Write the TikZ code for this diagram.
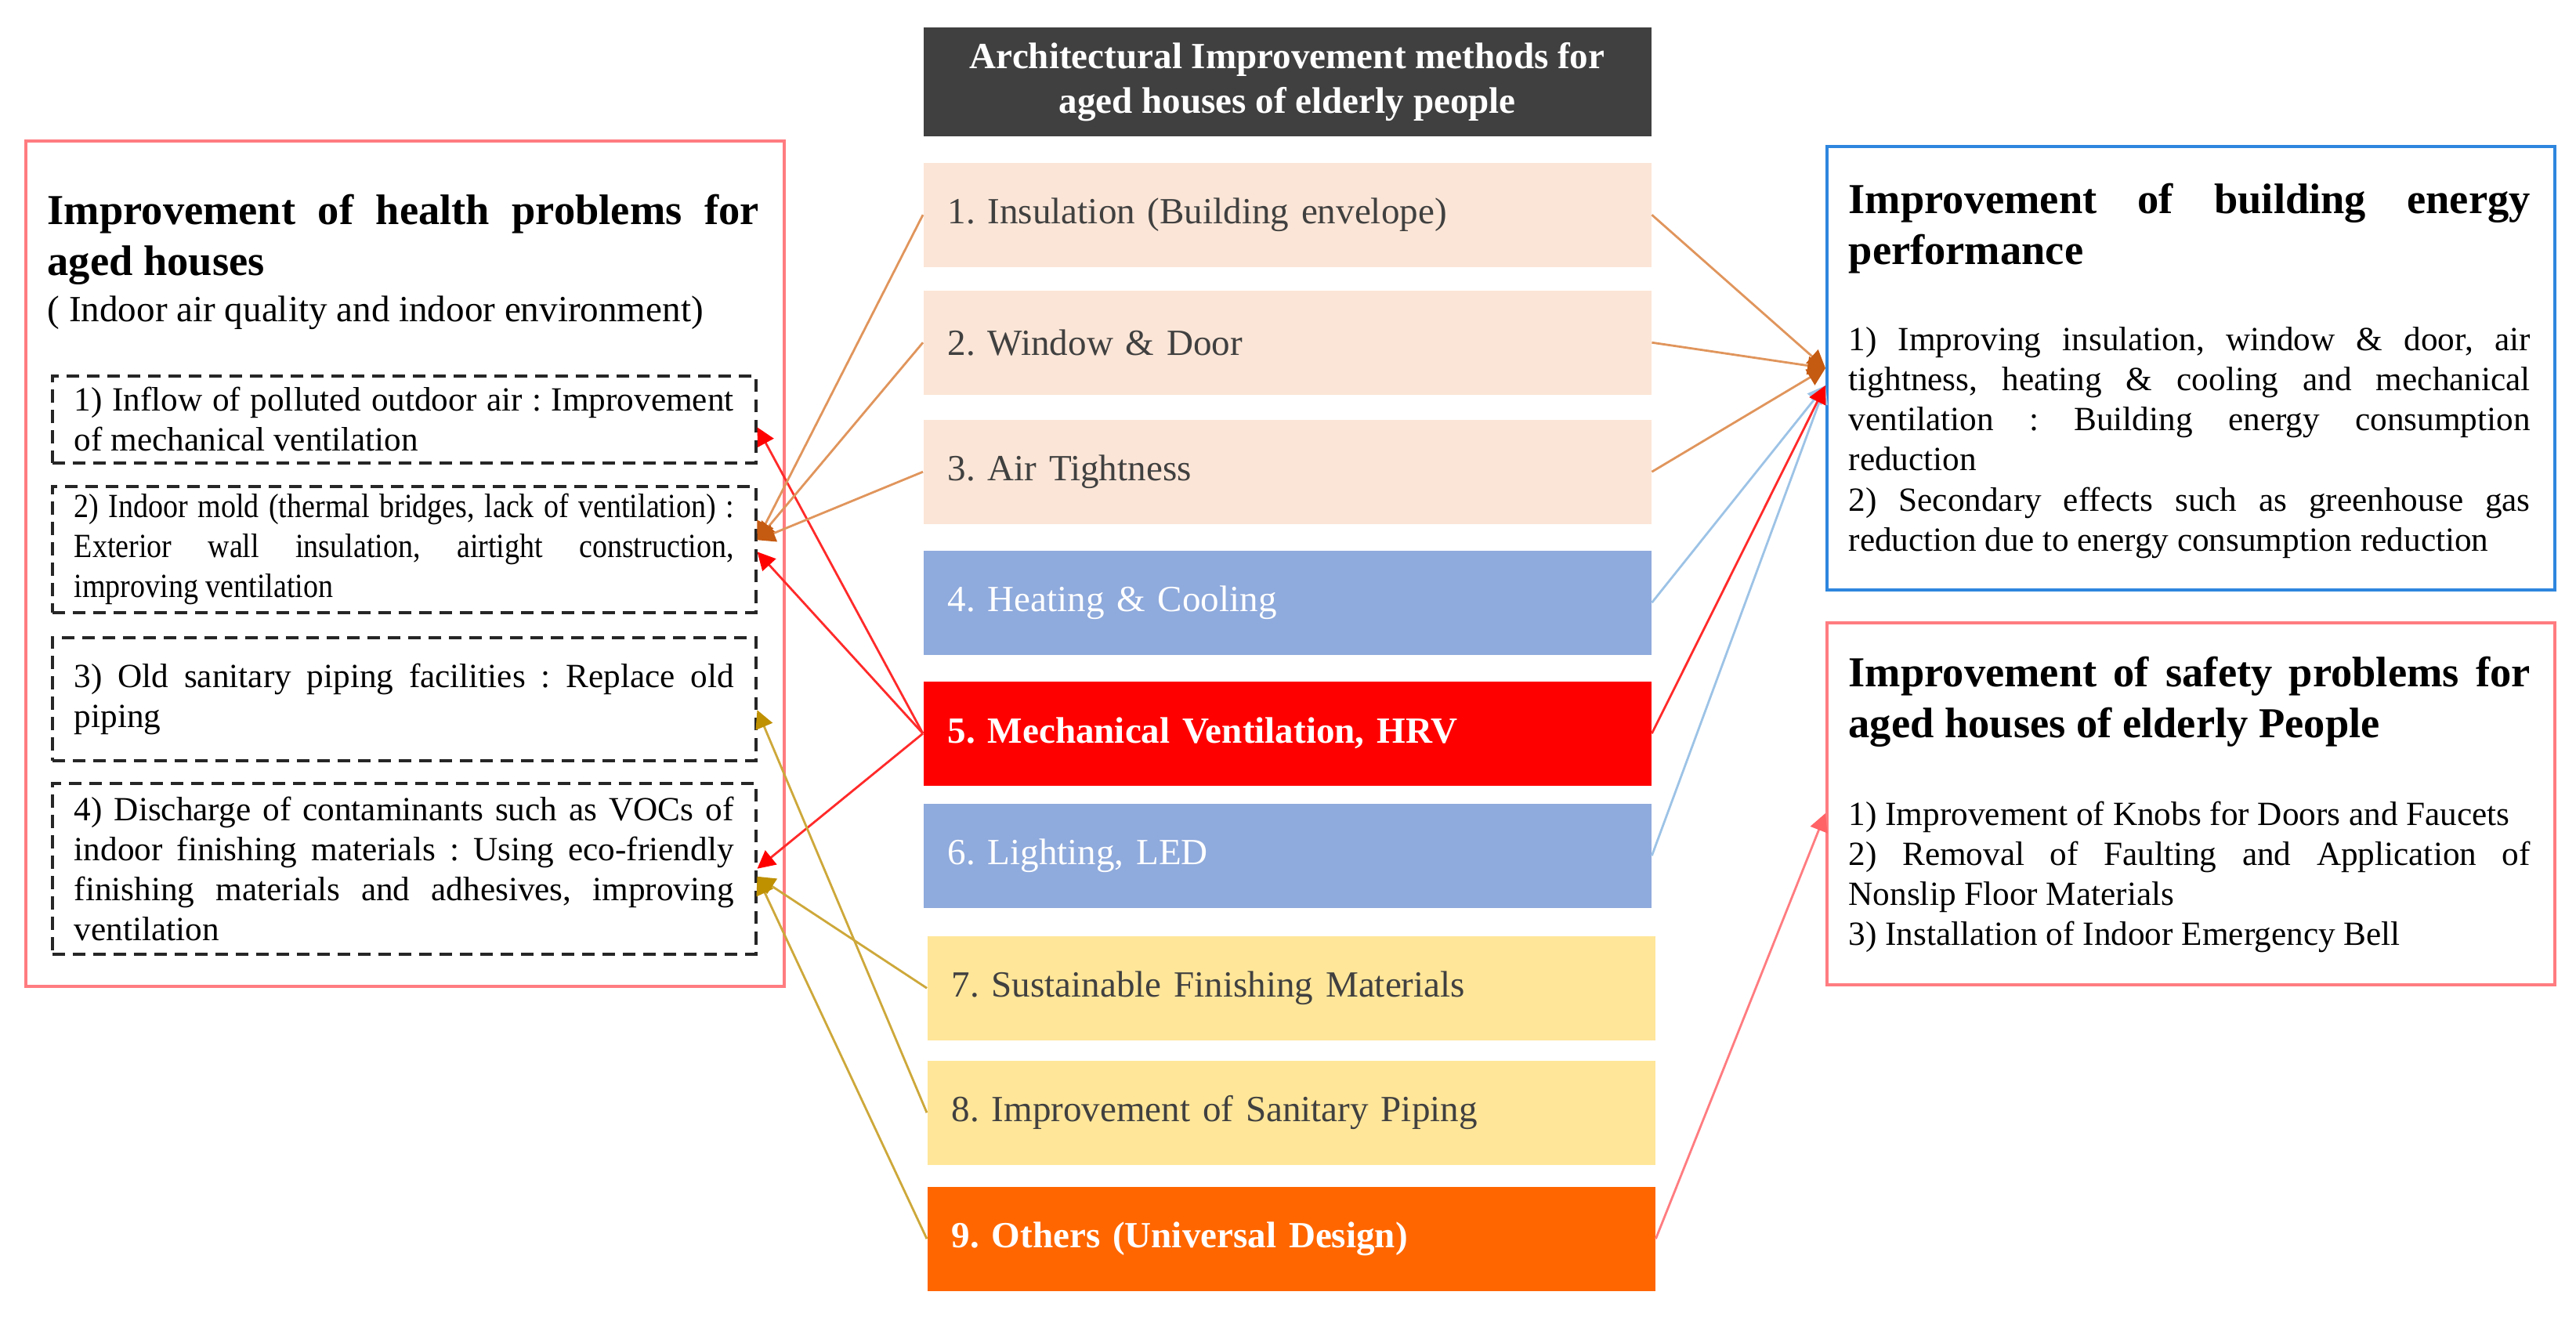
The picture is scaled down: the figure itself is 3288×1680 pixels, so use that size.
\documentclass[tikz,border=0pt]{standalone}
\usepackage{fontspec}
\setmainfont{Liberation Serif}
\newfontfamily\narrowserif[FakeStretch=0.88]{Liberation Serif}
\usepackage{xcolor}
\usetikzlibrary{arrows.meta}

\definecolor{peach}{HTML}{FBE5D6}
\definecolor{skyblue}{HTML}{8FAADC}
\definecolor{sand}{HTML}{FFE699}
\definecolor{tangerine}{HTML}{FF6600}
\definecolor{darkhead}{HTML}{404040}
\definecolor{pinkline}{HTML}{FF7C80}
\definecolor{boxblue}{HTML}{2E86DE}
\definecolor{copper}{HTML}{C55A11}
\definecolor{copperline}{HTML}{E0955C}
\definecolor{gold}{HTML}{BF9000}
\definecolor{goldline}{HTML}{CDA83A}
\definecolor{lightblue}{HTML}{9DC3E6}
\definecolor{brightred}{HTML}{FF2A2A}
\tolerance=10000
\hbadness=10000
\frenchspacing

\begin{document}
\begin{tikzpicture}[x=0.1mm, y=-0.1mm,
    outerbox/.style={anchor=north west, line width=1.1pt, inner sep=0pt},
    method/.style={anchor=north west, minimum width=92.9mm, minimum height=13.3mm, inner xsep=3.1mm, inner ysep=0pt, text width=86.7mm, align=left, font=\fontsize{13.4}{16}\selectfont},
    problem/.style={draw=black!85, line width=1pt, dash pattern=on 4.6pt off 2.8pt, anchor=north west, inner xsep=2.8mm, inner ysep=0pt, text width=84.2mm, align=justify, font=\fontsize{12.3}{14.5}\selectfont},
    heading/.style={anchor=base west, inner sep=0pt, align=justify, font=\fontsize{15.5}{18.5}\selectfont\bfseries},
    bodytext/.style={anchor=base west, inner sep=0pt, align=justify, font=\fontsize{12.3}{14.6}\selectfont},
    copperarrow/.style={draw=copperline, line width=0.8pt, -{Triangle[length=6.5pt, width=6.5pt, color=copper]}},
    redarrow/.style={draw=brightred, line width=0.8pt, -{Triangle[length=6.5pt, width=6.5pt, color=red]}},
    goldarrow/.style={draw=goldline, line width=0.8pt, -{Triangle[length=6.5pt, width=6.5pt, color=gold]}},
    bluearrow/.style={draw=lightblue, line width=0.8pt, -{Triangle[length=6.5pt, width=6.5pt, color=lightblue]}}]
    \useasboundingbox (0,0) rectangle (3288,1680);

    \node[outerbox, draw=pinkline, minimum width=96.8mm, minimum height=107.9mm] (health) at (31,178) {};
    \node[heading, text width=90.8mm] (healthtitle) at (60,286) {Improvement of health problems for\linebreak aged houses};
    \node[anchor=base west, inner sep=0pt, font=\fontsize{13.4}{16}\selectfont] (healthsub) at (60,410) {( Indoor air quality and indoor environment)};
    \node[problem, minimum height=11.1mm] (h1) at (65,478) {1) Inflow of polluted outdoor air : Improvement\linebreak of mechanical ventilation};
    \node[problem, minimum height=16.1mm] (h2) at (65,619) {\narrowserif 2) Indoor mold (thermal bridges, lack of ventilation) :\linebreak Exterior wall insulation, airtight construction,\linebreak improving ventilation};
    \node[problem, minimum height=15.7mm] (h3) at (65,812) {3) Old sanitary piping facilities : Replace old\linebreak piping};
    \node[problem, minimum height=21.8mm] (h4) at (65,998) {4) Discharge of contaminants such as VOCs of\linebreak indoor finishing materials : Using eco-friendly\linebreak finishing materials and adhesives, improving\linebreak ventilation};

    \node[fill=darkhead, text=white, anchor=north west, minimum width=92.9mm, minimum height=13.9mm, inner sep=0pt, align=center, font=\fontsize{13.4}{16.2}\selectfont\bfseries] (methods) at (1178,34) {Architectural Improvement methods for\\aged houses of elderly people};
    \node[method, fill=peach, text=darkhead] (m1) at (1178,207) {1. Insulation (Building envelope)};
    \node[method, fill=peach, text=darkhead] (m2) at (1178,370) {2. Window \& Door};
    \node[method, fill=peach, text=darkhead] (m3) at (1178,535) {3. Air Tightness};
    \node[method, fill=skyblue, text=white] (m4) at (1178,702) {4. Heating \& Cooling};
    \node[method, fill=red, text=white, font=\fontsize{13.4}{16}\selectfont\bfseries] (m5) at (1178,869) {5. Mechanical Ventilation, HRV};
    \node[method, fill=skyblue, text=white] (m6) at (1178,1025) {6. Lighting, LED};
    \node[method, fill=sand, text=darkhead] (m7) at (1183,1194) {7. Sustainable Finishing Materials};
    \node[method, fill=sand, text=darkhead] (m8) at (1183,1353) {8. Improvement of Sanitary Piping};
    \node[method, fill=tangerine, text=white, font=\fontsize{13.4}{16}\selectfont\bfseries] (m9) at (1183,1514) {9. Others (Universal Design)};

    \node[outerbox, draw=boxblue, minimum width=92.9mm, minimum height=56.6mm] (energy) at (2330,185) {};
    \node[heading, text width=87mm] (energytitle) at (2359,272) {Improvement of building energy\linebreak performance};
    \node[bodytext, text width=87mm] (energytext) at (2359,447) {1) Improving insulation, window \& door, air\linebreak tightness, heating \& cooling and mechanical\linebreak ventilation : Building energy consumption\linebreak reduction\\2) Secondary effects such as greenhouse gas\linebreak reduction due to energy consumption reduction};
    \node[outerbox, draw=pinkline, minimum width=92.9mm, minimum height=46.2mm] (safety) at (2330,793) {};
    \node[heading, text width=87mm] (safetytitle) at (2359,876) {Improvement of safety problems for\linebreak aged houses of elderly People};
    \node[bodytext, text width=87mm] (safetytext) at (2359,1053) {1) Improvement of Knobs for Doors and Faucets\\2) Removal of Faulting and Application of\linebreak Nonslip Floor Materials\\3) Installation of Indoor Emergency Bell};

    \draw[redarrow] (m5.west) -- ([yshift=-1mm]h1.east);
    \draw[redarrow] (m5.west) -- ([yshift=-0.3mm]h2.east);
    \draw[redarrow] (m5.west) -- (h4.east);
    \draw[copperarrow] (m1.west) -- ([yshift=1.2mm]h2.east);
    \draw[copperarrow] (m2.west) -- ([yshift=1.2mm]h2.east);
    \draw[copperarrow] (m3.west) -- ([yshift=1.2mm]h2.east);
    \draw[goldarrow] (m7.west) -- ([yshift=-1mm]h4.east);
    \draw[goldarrow] (m8.west) -- ([yshift=-1.4mm]h3.east);
    \draw[goldarrow] (m9.west) -- ([yshift=-1mm]h4.east);

    \draw[bluearrow] (m4.east) -- ([yshift=-2.2mm]energy.west);
    \draw[bluearrow] (m6.east) -- ([yshift=-2.2mm]energy.west);
    \draw[redarrow] (m5.east) -- ([yshift=-2.2mm]energy.west);
    \draw[copperarrow] (m1.east) -- (energy.west);
    \draw[copperarrow] (m2.east) -- (energy.west);
    \draw[copperarrow] (m3.east) -- (energy.west);
    \draw[draw=pinkline, line width=0.8pt, -{Triangle[length=6.5pt, width=6.5pt, color=pinkline!80!red]}] (m9.east) -- ([yshift=-1.2mm]safety.west);
\end{tikzpicture}
\end{document}
